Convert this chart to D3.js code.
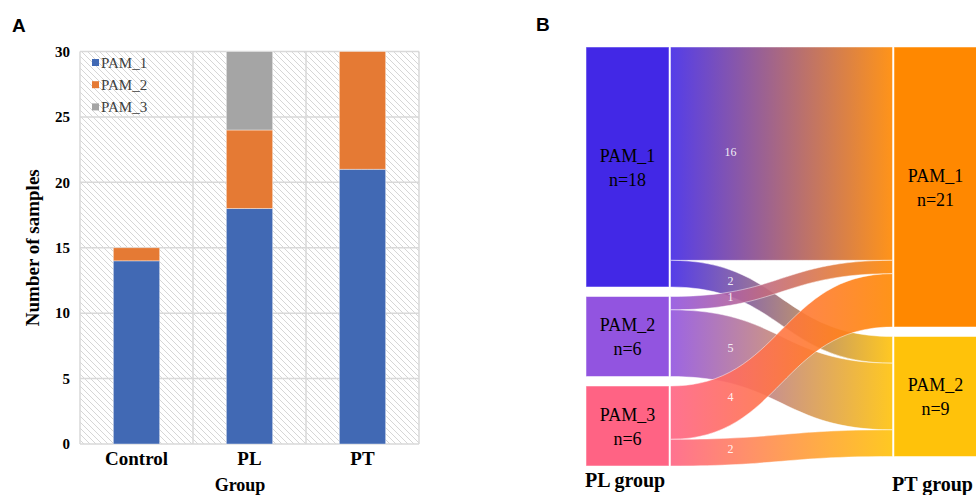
<!DOCTYPE html>
<html>
<head>
<meta charset="utf-8">
<script src="https://cdn.jsdelivr.net/npm/d3@7"></script>
<style>
  body { margin: 0; background: #fff; }
  svg { display: block; }
  .serif { font-family: "Liberation Serif", "Times New Roman", serif; }
</style>
</head>
<body>
<svg id="fig" width="976" height="495"></svg>
<script>
// ---- panel A data ----
let groups = ['Control', 'PL', 'PT'];
let pamNames = ['PAM_1', 'PAM_2', 'PAM_3'];
let pam1 = [14, 18, 21];
let pam2 = [1, 6, 9];
let pam3 = [0, 6, 0];
let yTicks = [0, 5, 10, 15, 20, 25, 30];

// ---- panel B data ----
let plNodes = ['PAM_1', 'PAM_2', 'PAM_3'];
let plCounts = [18, 6, 6];
let ptNodes = ['PAM_1', 'PAM_2'];
let ptCounts = [21, 9];
let flowSource = [0, 0, 1, 1, 2, 2];
let flowTarget = [0, 1, 0, 1, 0, 1];
let flowValue = [16, 2, 1, 5, 4, 2];

let barColors = ['#4169b4', '#e57a34', '#a5a5a5'];
let plColors = ['#4228e6', '#9254e0', '#ff6384'];
let ptColors = ['#ff8800', '#ffc20a'];

let svg = d3.select('#fig');
let defs = svg.append('defs');

// hatch fill for the plot background
let hatch = defs.append('pattern')
  .attr('id', 'hatch')
  .attr('patternUnits', 'userSpaceOnUse')
  .attr('width', 6).attr('height', 6);
hatch.append('rect').attr('width', 6).attr('height', 6).attr('fill', '#fff');
hatch.append('path')
  .attr('d', 'M0,0L6,6M-1,5L1,7M5,-1L7,1')
  .attr('stroke', '#d6d6d6').attr('stroke-width', 1);

// panel letters
svg.append('text').text('A').attr('x', 12).attr('y', 32)
  .style('font-family', 'Liberation Sans, Arial, sans-serif').style('font-weight', 'bold').style('font-size', '19px');
svg.append('text').text('B').attr('x', 536).attr('y', 31)
  .style('font-family', 'Liberation Sans, Arial, sans-serif').style('font-weight', 'bold').style('font-size', '19px');

// ================= panel A =================
let x = d3.scaleBand().domain(groups).range([80, 419]);
let y = d3.scaleLinear().domain([0, 30]).range([444, 51.5]);
let barW = x.bandwidth() * 0.41;

let gA = svg.append('g');
gA.append('rect')
  .attr('x', x.range()[0]).attr('y', y(30))
  .attr('width', x.range()[1] - x.range()[0]).attr('height', y(0) - y(30))
  .attr('fill', 'url(#hatch)');

// grid
gA.selectAll('.hgrid').data(yTicks).join('line')
  .attr('class', 'hgrid')
  .attr('x1', x.range()[0]).attr('x2', x.range()[1])
  .attr('y1', d => y(d)).attr('y2', d => y(d))
  .attr('stroke', '#d9d9d9').attr('stroke-width', 1.5);
let vlines = groups.map(g => x(g)).concat([x.range()[1]]);
gA.selectAll('.vgrid').data(vlines).join('line')
  .attr('class', 'vgrid')
  .attr('x1', d => d).attr('x2', d => d)
  .attr('y1', y(0)).attr('y2', y(30))
  .attr('stroke', '#d9d9d9').attr('stroke-width', 1.5);

// stacked bars
let rows = groups.map((g, i) => ({ group: g, PAM_1: pam1[i], PAM_2: pam2[i], PAM_3: pam3[i] }));
let stacked = d3.stack().keys(pamNames)(rows);
gA.selectAll('.layer').data(stacked).join('g')
  .attr('fill', (d, i) => barColors[i])
  .selectAll('rect').data(d => d.filter(p => p[1] > p[0])).join('rect')
  .attr('x', d => x(d.data.group) + (x.bandwidth() - barW) / 2)
  .attr('width', barW)
  .attr('y', d => y(d[1]))
  .attr('height', d => y(d[0]) - y(d[1]))
  .attr('stroke', '#ffffff').attr('stroke-opacity', 0.5).attr('stroke-width', 0.8);

// y axis
let yAxis = d3.axisLeft(y).tickValues(yTicks).tickSize(0).tickPadding(10);
let ga = gA.append('g').attr('transform', 'translate(' + x.range()[0] + ',0)').call(yAxis);
ga.select('.domain').remove();
ga.selectAll('text').attr('class', 'serif')
  .style('font-size', '15px').style('font-weight', 'bold').attr('fill', '#000');

// x axis
let xAxis = d3.axisBottom(x).tickSize(0).tickPadding(8);
let gx = gA.append('g').attr('transform', 'translate(0,' + y(0) + ')').call(xAxis);
gx.select('.domain').remove();
gx.selectAll('text').attr('class', 'serif')
  .style('font-size', '19px').style('font-weight', 'bold').attr('fill', '#000');

gA.append('text').attr('class', 'serif').text('Number of samples')
  .attr('transform', 'translate(39,' + ((y(0) + y(30)) / 2) + ')rotate(-90)')
  .attr('text-anchor', 'middle')
  .style('font-size', '19px').style('font-weight', 'bold');
gA.append('text').attr('class', 'serif').text('Group')
  .attr('x', 240).attr('y', 491).attr('text-anchor', 'middle')
  .style('font-size', '18px').style('font-weight', 'bold');

// legend
let leg = gA.selectAll('.leg').data(pamNames).join('g')
  .attr('transform', (d, i) => 'translate(92,' + (63 + i * 22.2) + ')');
leg.append('rect').attr('x', 0).attr('y', -4).attr('width', 7).attr('height', 7)
  .attr('fill', (d, i) => barColors[i]);
leg.append('text').attr('class', 'serif').text(d => d)
  .attr('x', 9).attr('y', 5)
  .style('font-size', '15px').attr('fill', '#404040');

// ================= panel B =================
let nodeTop = 47, gap = 9.5, nodeW = 83;
let k = d3.scaleLinear().domain([0, d3.sum(plCounts)]).range([0, 400]);
let colX = d3.scaleLinear().domain([0, 1]).range([586, 894]);

function layout(counts) {
  let out = [], y0 = nodeTop;
  counts.forEach(c => { out.push({ y0: y0, y1: y0 + k(c) }); y0 += k(c) + gap; });
  return out;
}
let plPos = layout(plCounts);
let ptPos = layout(ptCounts);

// link offsets
let srcOff = plPos.map(p => p.y0);
let tgtOff = ptPos.map(p => p.y0);
let flows = flowValue.map((v, i) => ({ s: flowSource[i], t: flowTarget[i], v: v }));
flows.forEach(f => {
  f.sy0 = srcOff[f.s]; f.sy1 = f.sy0 + k(f.v); srcOff[f.s] = f.sy1;
});
// target side: ordered by source
flows.slice().sort((a, b) => a.s - b.s).forEach(f => {
  f.ty0 = tgtOff[f.t]; f.ty1 = f.ty0 + k(f.v); tgtOff[f.t] = f.ty1;
});

let lx0 = colX(0) + nodeW + 1.5, lx1 = colX(1) - 1.5, lxm = (lx0 + lx1) / 2;

function linkPath(f) {
  let p = d3.path();
  p.moveTo(lx0, f.sy0);
  p.bezierCurveTo(lxm, f.sy0, lxm, f.ty0, lx1, f.ty0);
  p.lineTo(lx1, f.ty1);
  p.bezierCurveTo(lxm, f.ty1, lxm, f.sy1, lx0, f.sy1);
  p.closePath();
  return p.toString();
}

let gB = svg.append('g');
flows.forEach((f, i) => {
  let gr = defs.append('linearGradient').attr('id', 'lg' + i)
    .attr('gradientUnits', 'userSpaceOnUse')
    .attr('x1', lx0).attr('x2', lx1).attr('y1', 0).attr('y2', 0);
  gr.append('stop').attr('offset', '0%').attr('stop-color', plColors[f.s]);
  gr.append('stop').attr('offset', '100%').attr('stop-color', ptColors[f.t]);
});
gB.selectAll('.link').data(flows).join('path')
  .attr('class', 'link')
  .attr('d', linkPath)
  .attr('fill', (d, i) => 'url(#lg' + i + ')')
  .attr('fill-opacity', 0.9)
  .attr('stroke', '#fff').attr('stroke-opacity', 0.6).attr('stroke-width', 0.8);

// link value labels along the curve
function curveY(f, px) {
  let lo = 0, hi = 1;
  for (let n = 0; n < 30; n++) {
    let t = (lo + hi) / 2;
    let bx = lx0 * Math.pow(1 - t, 3) + 3 * lxm * (1 - t) * (1 - t) * t + 3 * lxm * (1 - t) * t * t + lx1 * t * t * t;
    if (bx < px) lo = t; else hi = t;
  }
  let t = (lo + hi) / 2, g = 3 * t * t - 2 * t * t * t;
  let sc = (f.sy0 + f.sy1) / 2, tc = (f.ty0 + f.ty1) / 2;
  return sc + (tc - sc) * g;
}
let labelX = lx0 + (lx1 - lx0) * 0.27;
gB.selectAll('.lv').data(flows).join('text')
  .attr('class', 'serif')
  .attr('x', labelX).attr('y', d => curveY(d, labelX) - 2)
  .attr('text-anchor', 'middle').attr('dominant-baseline', 'central')
  .style('font-size', '12px').attr('fill', '#fff').attr('fill-opacity', 0.9)
  .text(d => d.v);

// nodes
function drawNodes(names, counts, pos, colors, col) {
  let g = gB.append('g');
  g.selectAll('rect').data(names).join('rect')
    .attr('x', colX(col)).attr('width', nodeW)
    .attr('y', (d, i) => pos[i].y0).attr('height', (d, i) => pos[i].y1 - pos[i].y0)
    .attr('fill', (d, i) => colors[i])
    .attr('stroke', '#fff').attr('stroke-opacity', 0.5).attr('stroke-width', 1);
  let t = g.selectAll('text').data(names).join('text')
    .attr('class', 'serif')
    .attr('text-anchor', 'middle')
    .style('font-size', '18px').attr('fill', '#000');
  t.append('tspan')
    .attr('x', colX(col) + nodeW / 2)
    .attr('y', (d, i) => (pos[i].y0 + pos[i].y1) / 2 - 5.5)
    .text(d => d);
  t.append('tspan')
    .attr('x', colX(col) + nodeW / 2)
    .attr('y', (d, i) => (pos[i].y0 + pos[i].y1) / 2 + 18.5)
    .text((d, i) => 'n=' + counts[i]);
}
drawNodes(plNodes, plCounts, plPos, plColors, 0);
drawNodes(ptNodes, ptCounts, ptPos, ptColors, 1);

gB.append('text').attr('class', 'serif').text('PL group')
  .attr('x', colX(0) - 1).attr('y', 487)
  .style('font-size', '20px').style('font-weight', 'bold');
gB.append('text').attr('class', 'serif').text('PT group')
  .attr('x', colX(1) - 2).attr('y', 491)
  .style('font-size', '20px').style('font-weight', 'bold');
</script>
</body>
</html>
